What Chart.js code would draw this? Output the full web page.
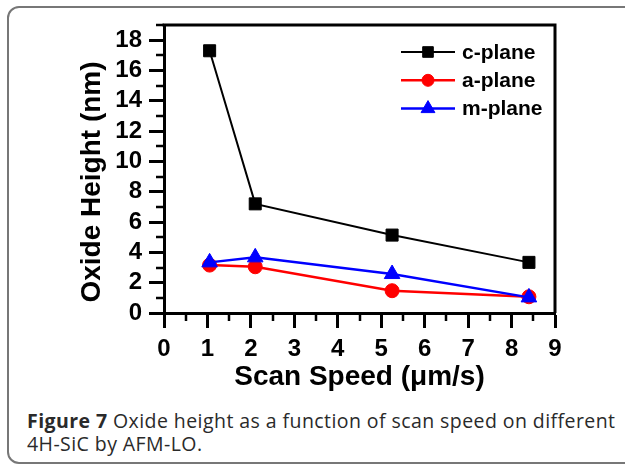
<!DOCTYPE html>
<html>
<head>
<meta charset="utf-8">
<title>Oxide height vs scan speed</title>
<script src="https://cdn.jsdelivr.net/npm/chart.js@4.4.0/dist/chart.umd.min.js"></script>
<style>
  html, body { margin: 0; padding: 0; background: #fff; }
  body { width: 625px; height: 465px; position: relative; overflow: hidden; }
  .frame {
    position: absolute; left: 7px; top: 6px; width: 700px; height: 454px;
    border: 2px solid #777; border-radius: 12px;
  }
  #plot { position: absolute; left: 0; top: 0; }
  .caption {
    position: absolute; left: 27px; top: 408.5px;
    font-family: "Open Sans", "Noto Sans", sans-serif; font-size: 19.5px; line-height: 23.3px;
    letter-spacing: 0.43px; color: #2a2a2a; white-space: nowrap;
  }
  .caption b { font-weight: 700; }
</style>
</head>
<body>
<div class="frame"></div>
<canvas id="plot" width="625" height="400"></canvas>
<div class="caption"><b>Figure 7</b> Oxide height as a function of scan speed on different<br>4H-SiC by AFM-LO.</div>

<script>
// scan speed in um/s, oxide height in nm
const scanSpeed = [1.05, 2.1, 5.25, 8.4];
const cPlane = [17.3, 7.2, 5.14, 3.34];
const aPlane = [3.16, 3.05, 1.47, 1.07];
const mPlane = [3.34, 3.67, 2.57, 1.03];

const seriesNames = ['c-plane', 'a-plane', 'm-plane'];
const xRange = [0, 9];
const yRange = [0, 19];
const xTickStep = 1;
const yTickStep = 2;

const axisFont = '"Liberation Sans", Arial, sans-serif';
const toPoints = (ys) => scanSpeed.map((x, i) => ({ x: x, y: ys[i] }));

// top/right frame, minor ticks, rotated y title and the line+marker legend
const figureExtras = {
  id: 'figureExtras',
  afterDraw(chart) {
    const { ctx, chartArea: a, scales: { x, y } } = chart;
    ctx.save();
    ctx.strokeStyle = '#000';
    ctx.lineWidth = 3;
    ctx.beginPath();
    ctx.moveTo(a.left - 1.5, a.top);
    ctx.lineTo(a.right, a.top);
    ctx.lineTo(a.right, a.bottom);
    ctx.stroke();

    ctx.lineWidth = 2.5;
    ctx.beginPath();
    for (let v = xRange[0] + xTickStep / 2; v < xRange[1]; v += xTickStep) {
      const px = Math.round(x.getPixelForValue(v));
      ctx.moveTo(px, a.bottom);
      ctx.lineTo(px, a.bottom + 8);
    }
    for (let v = yRange[0] + yTickStep / 2; v <= yRange[1]; v += yTickStep) {
      const py = Math.round(y.getPixelForValue(v));
      ctx.moveTo(a.left, py);
      ctx.lineTo(a.left - 8, py);
    }
    ctx.stroke();

    // y axis title
    ctx.save();
    ctx.translate(100, 182);
    ctx.rotate(-Math.PI / 2);
    ctx.font = 'bold 28px ' + axisFont;
    ctx.fillStyle = '#000';
    ctx.textAlign = 'center';
    ctx.textBaseline = 'alphabetic';
    ctx.fillText('Oxide Height (nm)', 0, 0);
    ctx.restore();

    // legend
    chart.data.datasets.forEach((ds, i) => {
      const ly = a.top + 27 + i * 28.3;
      const lx = a.right - 154;
      ctx.strokeStyle = ds.borderColor;
      ctx.lineWidth = ds.borderWidth;
      ctx.beginPath();
      ctx.moveTo(lx, ly);
      ctx.lineTo(lx + 54, ly);
      ctx.stroke();
      ctx.fillStyle = ds.pointBackgroundColor;
      ctx.lineWidth = 1;
      Chart.helpers.drawPoint(ctx, { pointStyle: ds.pointStyle, radius: ds.pointRadius - 1, borderWidth: 1, rotation: 0 }, lx + 27, ly);
      ctx.fillStyle = '#000';
      ctx.font = 'bold 21px ' + axisFont;
      ctx.textAlign = 'left';
      ctx.textBaseline = 'middle';
      ctx.fillText(ds.label, lx + 61, ly + 1);
    });
    ctx.restore();
  }
};

new Chart(document.getElementById('plot').getContext('2d'), {
  type: 'line',
  data: {
    datasets: [
      {
        label: seriesNames[0], data: toPoints(cPlane), order: 3,
        borderColor: '#000', backgroundColor: '#000', pointBackgroundColor: '#000',
        borderWidth: 2, pointStyle: 'rect', pointRadius: 8.5, pointBorderWidth: 1
      },
      {
        label: seriesNames[1], data: toPoints(aPlane), order: 2,
        borderColor: '#ff0000', backgroundColor: '#ff0000', pointBackgroundColor: '#ff0000',
        borderWidth: 2.5, pointStyle: 'circle', pointRadius: 7, pointBorderWidth: 1
      },
      {
        label: seriesNames[2], data: toPoints(mPlane), order: 1,
        borderColor: '#0000ff', backgroundColor: '#0000ff', pointBackgroundColor: '#0000ff',
        borderWidth: 2.5, pointStyle: 'triangle', pointRadius: 9, pointBorderWidth: 1
      }
    ]
  },
  options: {
    responsive: false,
    animation: false,
    layout: { padding: { left: 0, right: 70, top: 25, bottom: 0 } },
    plugins: {
      legend: { display: false },
      tooltip: { enabled: false }
    },
    scales: {
      x: {
        type: 'linear',
        min: xRange[0],
        max: xRange[1],
        ticks: {
          stepSize: xTickStep, includeBounds: false, maxRotation: 0, padding: 7,
          color: '#000', font: { family: axisFont, size: 24, weight: 'bold' }
        },
        grid: { drawOnChartArea: false, tickLength: 15, tickWidth: 3, tickColor: '#000' },
        border: { display: true, width: 3, color: '#000' },
        title: {
          display: true, text: 'Scan Speed (μm/s)', color: '#000',
          font: { family: axisFont, size: 28, weight: 'bold' },
          padding: { top: 0, bottom: 6 }
        },
        afterFit: (scale) => { scale.height = 87; }
      },
      y: {
        type: 'linear',
        min: yRange[0],
        max: yRange[1],
        ticks: {
          stepSize: yTickStep, includeBounds: false, padding: 7,
          color: '#000', font: { family: axisFont, size: 24, weight: 'bold' }
        },
        grid: { drawOnChartArea: false, tickLength: 15, tickWidth: 3, tickColor: '#000' },
        border: { display: true, width: 3, color: '#000' },
        afterFit: (scale) => { scale.width = 164; }
      }
    }
  },
  plugins: [figureExtras]
});
</script>
</body>
</html>
